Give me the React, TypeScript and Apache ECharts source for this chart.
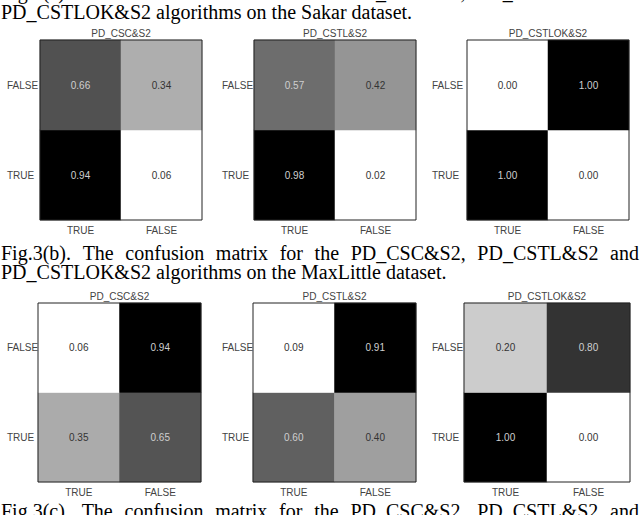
import React, { useEffect, useRef } from "react";
import * as echarts from "echarts";

// ---- data ----
const categories = ["TRUE", "FALSE"]; // x: predicted, y: actual (bottom -> top)
const chartTitles = [
  "PD_CSC&S2",
  "PD_CSTL&S2",
  "PD_CSTLOK&S2",
  "PD_CSC&S2",
  "PD_CSTL&S2",
  "PD_CSTLOK&S2",
];
// each matrix: rows = [TRUE row, FALSE row], cols = [TRUE, FALSE]
const sakarCSC = [[0.94, 0.06], [0.66, 0.34]];
const sakarCSTL = [[0.98, 0.02], [0.57, 0.42]];
const sakarCSTLOK = [[1.0, 0.0], [0.0, 1.0]];
const maxLittleCSC = [[0.35, 0.65], [0.06, 0.94]];
const maxLittleCSTL = [[0.6, 0.4], [0.09, 0.91]];
const maxLittleCSTLOK = [[1.0, 0.0], [0.2, 0.8]];
const matrices = [sakarCSC, sakarCSTL, sakarCSTLOK, maxLittleCSC, maxLittleCSTL, maxLittleCSTLOK];

const captionTopLine1 = "Fig.3(a). The confusion matrix for the PD_CSC&S2, PD_CSTL&S2 and";
const captionTopLine2 = "PD_CSTLOK&S2 algorithms on the Sakar dataset.";
const captionMidLine1 = "Fig.3(b). The confusion matrix for the PD_CSC&S2, PD_CSTL&S2 and";
const captionMidLine2 = "PD_CSTLOK&S2 algorithms on the MaxLittle dataset.";
const captionBotLine1 = "Fig.3(c). The confusion matrix for the PD_CSC&S2, PD_CSTL&S2 and";

// ---- layout ----
const gridBoxes = [
  { l: 40, r: 202, t: 40, b: 220, lm: 33 },
  { l: 254, r: 416, t: 40, b: 220, lm: 32 },
  { l: 467, r: 629, t: 40, b: 220, lm: 35 },
  { l: 38, r: 201, t: 303, b: 482, lm: 31 },
  { l: 253, r: 416, t: 303, b: 482, lm: 31 },
  { l: 464, r: 630, t: 303, b: 482, lm: 32 },
];
const W = 640;
const H = 515;
const CAP_SIZE = 20;
const CAP_LINE = 18;
const CAP_FONT = "Liberation Serif";
const SANS = "Liberation Sans";

function measure(text: string): number {
  const c = document.createElement("canvas").getContext("2d");
  if (!c) return text.length * CAP_SIZE * 0.45;
  c.font = `${CAP_SIZE}px "${CAP_FONT}"`;
  return c.measureText(text).width;
}

function captionLine(text: string, baseline: number, justify: boolean): any[] {
  const style = (t: string) => ({
    text: t,
    fontSize: CAP_SIZE,
    fontFamily: CAP_FONT,
    fill: "#000",
    align: "left",
    verticalAlign: "bottom",
    lineHeight: CAP_LINE,
  });
  const y = baseline + 3.5;
  if (!justify) {
    return [{ type: "text", x: 1, y, style: style(text), silent: true }];
  }
  const words = text.split(" ");
  const widths = words.map(measure);
  const total = widths.reduce((a, b) => a + b, 0);
  const gap = (W - 1 - 1 - total) / (words.length - 1);
  let x = 1;
  return words.map((w, i) => {
    const el = { type: "text", x, y, style: style(w), silent: true };
    x += widths[i] + gap;
    return el;
  });
}

export default function App() {
  const ref = useRef<HTMLDivElement>(null);
  useEffect(() => {
    if (!ref.current) return;
    const chart = echarts.init(ref.current, undefined, { renderer: "svg" });

    const grid = gridBoxes.map((g) => ({
      left: g.l,
      top: g.t,
      width: g.r - g.l,
      height: g.b - g.t,
      containLabel: false,
    }));
    const xAxis = gridBoxes.map((_, i) => ({
      type: "category",
      gridIndex: i,
      data: categories,
      axisLine: { show: false },
      axisTick: { show: false },
      splitLine: { show: false },
      axisLabel: { margin: 5, color: "#444", fontSize: 10, fontFamily: SANS },
    }));
    const yAxis = gridBoxes.map((g, i) => ({
      type: "category",
      gridIndex: i,
      data: categories,
      axisLine: { show: false },
      axisTick: { show: false },
      splitLine: { show: false },
      axisLabel: { margin: g.lm, align: "left", color: "#444", fontSize: 10, fontFamily: SANS },
    }));

    // each matrix is normalised to its own min/max (white = min, black = max)
    const visualMap = matrices.map((m, i) => {
      const flat = m.flat();
      return {
        show: false,
        type: "continuous",
        min: Math.min(...flat),
        max: Math.max(...flat),
        seriesIndex: i,
        dimension: 2,
        inRange: { color: ["#ffffff", "#000000"] },
      };
    });

    const series = matrices.map((m, i) => {
      const flat = m.flat();
      const mn = Math.min(...flat);
      const mx = Math.max(...flat);
      const data: any[] = [];
      m.forEach((row, yi) =>
        row.forEach((v, xi) => {
          const t = mx > mn ? (v - mn) / (mx - mn) : 0;
          data.push({ value: [xi, yi, v], label: { color: t >= 0.5 ? "#cfcfcf" : "#333" } });
        })
      );
      return {
        type: "heatmap",
        xAxisIndex: i,
        yAxisIndex: i,
        data,
        label: {
          show: true,
          fontSize: 10,
          fontFamily: SANS,
          formatter: (p: any) => Number(p.value[2]).toFixed(2),
        },
        itemStyle: { borderWidth: 0 },
      };
    });

    const graphics: any[] = [];
    gridBoxes.forEach((g, i) => {
      graphics.push({
        type: "rect",
        shape: { x: g.l, y: g.t, width: g.r - g.l, height: g.b - g.t },
        style: { fill: "none", stroke: "#222", lineWidth: 1 },
        z: 100,
        silent: true,
      });
      graphics.push({
        type: "text",
        x: (g.l + g.r) / 2,
        y: g.t - 7,
        style: {
          text: chartTitles[i],
          fontSize: 10,
          fontFamily: SANS,
          fill: "#444",
          align: "center",
          verticalAlign: "middle",
        },
        silent: true,
      });
    });
    graphics.push(...captionLine(captionTopLine1, -3, true));
    graphics.push(...captionLine(captionTopLine2, 17, false));
    graphics.push(...captionLine(captionMidLine1, 258, true));
    graphics.push(...captionLine(captionMidLine2, 277, false));
    graphics.push(...captionLine(captionBotLine1, 516, true));

    chart.setOption({
      animation: false,
      backgroundColor: "#fff",
      grid,
      xAxis,
      yAxis,
      visualMap,
      series,
      graphic: graphics,
    });

    return () => chart.dispose();
  }, []);
  return (
    <div
      ref={ref}
      style={{ position: "fixed", left: 0, top: 0, width: W, height: H, background: "#fff" }}
    />
  );
}
